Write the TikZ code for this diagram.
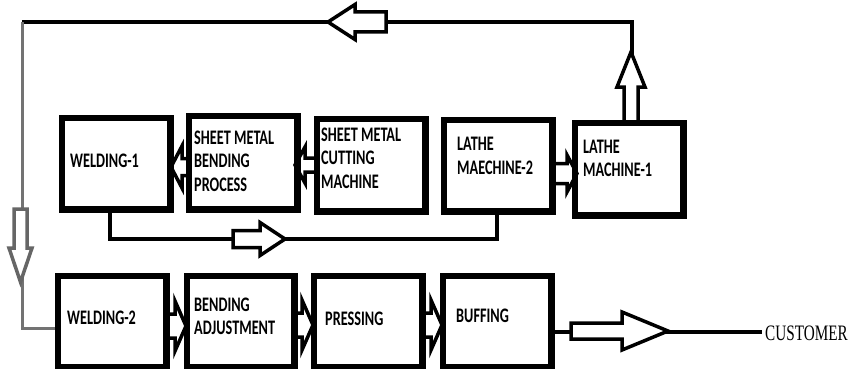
\documentclass[tikz,border=0pt]{standalone}
\usepackage{fontspec}
\usepackage{graphicx}
\setmainfont{Carlito}
\newfontfamily\custfont{Liberation Serif}
\newcommand{\lbl}[1]{\scalebox{1}[1.45]{\begin{tabular}{@{}l@{}}#1\end{tabular}}}
\newcommand{\hArrow}[6]{% tail x, y, head base x, tip x, shaft half, head half
  \draw[harr] (#1,#2+#5) -- (#3,#2+#5) -- (#3,#2+#6) -- (#4,#2) -- (#3,#2-#6) -- (#3,#2-#5) -- (#1,#2-#5) -- cycle;}
\newcommand{\vArrow}[6]{% x, tail y, head base y, tip y, shaft half, head half
  \draw[harr] (#1+#5,#2) -- (#1+#5,#3) -- (#1+#6,#3) -- (#1,#4) -- (#1-#6,#3) -- (#1-#5,#3) -- (#1-#5,#2) -- cycle;}
\tikzset{
  box/.style={draw, line width=4.5pt, minimum width=106pt, minimum height=90pt, inner sep=0pt, fill=white},
  lab/.style={anchor=west, inner sep=0pt, font=\fontsize{14.25}{16.2}\selectfont\bfseries},
  conn/.style={line width=4pt, line join=miter},
  harr/.style={draw, line width=3.5pt, fill=white, line join=miter},
}
\begin{document}
\begin{tikzpicture}[x=1pt,y=1pt]
\useasboundingbox (0,0) rectangle (848,-369);
% boxes (positions)
\node[box, minimum height=89pt] (w1) at (116,-163.5) {};
\node[box, minimum height=91pt] (sb) at (243,-162.5) {};
\node[box] (sc) at (371,-165) {};
\node[box, minimum height=89pt] (l2) at (498,-165.5) {};
\node[box] (l1) at (629,-169) {};
\node[box, minimum height=89pt] (w2) at (112,-321.5) {};
\node[box, minimum width=105pt, minimum height=89pt] (ba) at (240.5,-321.5) {};
\node[box, minimum height=89pt] (pr) at (368,-321.5) {};
\node[box, minimum height=89pt] (bu) at (497,-321.5) {};
% coordinates
\coordinate (tr) at (632,-22);
\coordinate (tl) at (22,-22);
\coordinate (bl) at (22,-328);
\coordinate (cu) at (762,-332);
% connectors
\draw[conn] ([xshift=3pt]l1.north) -- (tr) -- (tl);
\draw[conn, line width=3pt, black!55] (tl) -- (bl) -- ([yshift=-6.5pt]w2.west);
\draw[conn] ([xshift=-6pt]w1.south) |- (260,-239) -| ([xshift=-1pt]l2.south);
\draw[conn] ([yshift=-10.5pt]bu.east) -- (cu);
% hollow arrows on connectors
\hArrow{386}{-22}{355}{328}{10}{17.5}
\vArrow{631}{-122}{-87}{-52}{7}{14}
\begin{scope}[harr/.append style={draw=black!60}]
\vArrow{20.5}{-209}{-248}{-282}{6.5}{11.5}
\end{scope}
\hArrow{233}{-239}{260}{285}{8.5}{16.5}
\hArrow{571}{-331}{622}{668}{8}{19}
% arrows between boxes
\hArrow{190}{-167}{182}{171}{8.5}{21}
\hArrow{318}{-165}{305}{295}{7}{18}
\hArrow{551}{-173.5}{567}{577}{10}{18.5}
\hArrow{165}{-326}{175}{186}{12}{25}
\hArrow{293}{-325}{302}{313}{12}{25}
\hArrow{421}{-325}{431}{442}{12}{25}
% redraw boxes on top
\foreach \b in {w1,sb,sc,l2,l1,w2,ba,pr,bu} {\draw[line width=4.5pt] (\b.north west) rectangle (\b.south east);}
% labels
\node[lab] (t1) at (70,-163) {\lbl{WELDING-1}};
\node[lab] (t2) at (194,-163) {\lbl{SHEET METAL\\BENDING\\PROCESS}};
\node[lab] (t3) at (321,-160) {\lbl{SHEET METAL\\CUTTING\\MACHINE}};
\node[lab] (t4) at (457,-158) {\lbl{LATHE\\MAECHINE-2}};
\node[lab] (t5) at (583,-160.5) {\lbl{LATHE\\MACHINE-1}};
\node[lab] (t6) at (67,-320) {\lbl{WELDING-2}};
\node[lab] (t7) at (194,-318.5) {\lbl{BENDING\\ADJUSTMENT}};
\node[lab] (t8) at (325,-321) {\lbl{PRESSING}};
\node[lab] (t9) at (456,-318) {\lbl{BUFFING}};
\node[anchor=west, inner sep=0pt, font=\custfont\fontsize{15.2}{16}\selectfont] (cust) at (765,-333) {\scalebox{1}[1.45]{CUSTOMER}};
\end{tikzpicture}
\end{document}
